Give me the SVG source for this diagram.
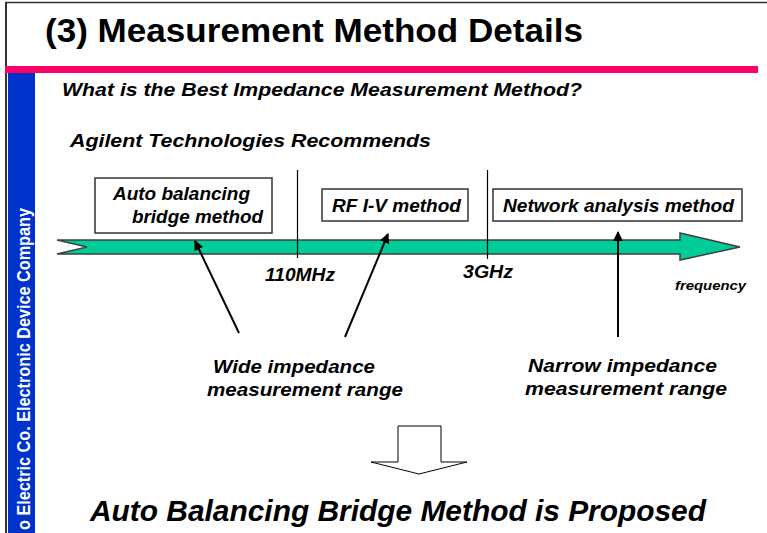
<svg xmlns="http://www.w3.org/2000/svg" width="767" height="533" viewBox="0 0 767 533">
<defs>
<style>
text{font-family:"Liberation Sans",Arial,sans-serif;font-weight:bold;fill:#000}
.it{font-style:italic}
.box{fill:#fff;stroke:#333;stroke-width:1.5}
.vl{stroke:#000;stroke-width:1.2}
.ptr{stroke:#000;stroke-width:2;fill:none;marker-end:url(#ah)}
</style>
<marker id="ah" viewBox="0 0 10 10" refX="9" refY="5" markerWidth="5" markerHeight="5" orient="auto" markerUnits="strokeWidth">
<path d="M0,0 L10,5 L0,10 Z" fill="#000"/>
</marker>
</defs>
<rect x="0" y="0" width="767" height="533" fill="#fff"/>
<g id="frame">
<line x1="5" y1="2.5" x2="767" y2="2.5" stroke="#333" stroke-width="1.5"/>
<line x1="6" y1="2" x2="6" y2="533" stroke="#333" stroke-width="2"/>
<rect x="5" y="66" width="753" height="7" fill="#FF0066"/>
<rect x="8" y="73" width="27" height="460" fill="#0033CC"/>
<text transform="translate(30,208) rotate(-90)" text-anchor="end" font-size="18" textLength="322" lengthAdjust="spacingAndGlyphs" style="fill:#fff">o Electric Co.  Electronic Device Company</text>
</g>
<g id="title">
<text x="45" y="42" font-size="34" textLength="538" lengthAdjust="spacingAndGlyphs">(3) Measurement Method Details</text>
</g>
<g id="subtitle">
<text class="it" x="62" y="96" font-size="19" textLength="520" lengthAdjust="spacingAndGlyphs">What is the Best Impedance Measurement Method?</text>
<text class="it" x="70" y="147" font-size="19" textLength="361" lengthAdjust="spacingAndGlyphs">Agilent Technologies Recommends</text>
</g>
<g id="frequency-axis">
<path d="M57,240 L680,240 L680,233 L740,247 L680,260 L680,254 L57,254 L87,247 Z" fill="#00CC99" stroke="#404040" stroke-width="1.5" stroke-linejoin="miter"/>
<line class="vl" x1="297.5" y1="170" x2="297.5" y2="258"/>
<line class="vl" x1="487.5" y1="170" x2="487.5" y2="259"/>
<text class="it" x="265" y="281" font-size="18" textLength="70" lengthAdjust="spacingAndGlyphs">110MHz</text>
<text class="it" x="463" y="278" font-size="18" textLength="50" lengthAdjust="spacingAndGlyphs">3GHz</text>
<text class="it" x="675" y="290" font-size="13" textLength="71" lengthAdjust="spacingAndGlyphs">frequency</text>
</g>
<g id="auto-balancing">
<rect class="box" x="95" y="178" width="177" height="55"/>
<text class="it" x="113" y="200" font-size="19" textLength="137" lengthAdjust="spacingAndGlyphs">Auto balancing</text>
<text class="it" x="132" y="223" font-size="19" textLength="131" lengthAdjust="spacingAndGlyphs">bridge method</text>
</g>
<g id="rf-iv">
<rect class="box" x="322" y="189" width="146" height="32"/>
<text class="it" x="332" y="212" font-size="19" textLength="129" lengthAdjust="spacingAndGlyphs">RF I-V method</text>
</g>
<g id="network-analysis">
<rect class="box" x="493" y="189" width="249" height="32"/>
<text class="it" x="503" y="212" font-size="19" textLength="231" lengthAdjust="spacingAndGlyphs">Network analysis method</text>
</g>
<g id="wide-range">
<text class="it" x="213" y="373" font-size="19" textLength="162" lengthAdjust="spacingAndGlyphs">Wide impedance</text>
<text class="it" x="207" y="396" font-size="19" textLength="196" lengthAdjust="spacingAndGlyphs">measurement range</text>
</g>
<g id="narrow-range">
<text class="it" x="528" y="372" font-size="19" textLength="189" lengthAdjust="spacingAndGlyphs">Narrow impedance</text>
<text class="it" x="525" y="395" font-size="19" textLength="202" lengthAdjust="spacingAndGlyphs">measurement range</text>
</g>
<g id="connectors">
<line class="ptr" x1="239" y1="333" x2="195" y2="241"/>
<line class="ptr" x1="345" y1="337" x2="388" y2="234"/>
<line class="ptr" x1="618" y1="337" x2="618" y2="232"/>
</g>
<g id="result-arrow">
<path d="M398,426 L441,426 L441,462 L467,462 L419,474 L371,462 L398,462 Z" fill="#fff" stroke="#000" stroke-width="1"/>
</g>
<g id="conclusion">
<text class="it" x="90" y="521" font-size="30" textLength="616" lengthAdjust="spacingAndGlyphs">Auto Balancing Bridge Method is Proposed</text>
</g>
</svg>
